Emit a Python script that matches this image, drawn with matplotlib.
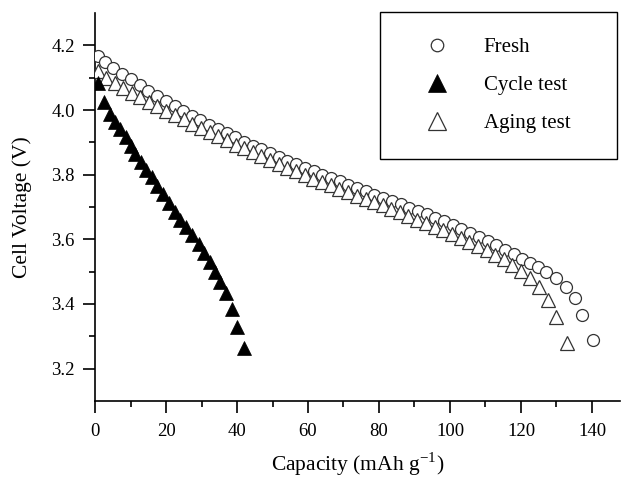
import matplotlib
matplotlib.use("Agg")
import matplotlib.pyplot as plt
from matplotlib.patches import Rectangle

plt.rcParams['font.family'] = ['Liberation Serif', 'DejaVu Serif']
plt.rcParams['mathtext.fontset'] = 'stix'

# Fresh cell (open circles)
fresh_cap = [0.9, 2.8, 5.2, 7.7, 10.1, 12.6, 15.0, 17.5, 19.9, 22.4, 24.8, 27.3,
             29.7, 32.2, 34.6, 37.1, 39.5, 42.0, 44.4, 46.9, 49.3, 51.8, 54.2,
             56.7, 59.1, 61.6, 64.0, 66.5, 68.9, 71.4, 73.8, 76.3, 78.7, 81.2,
             83.6, 86.1, 88.5, 91.0, 93.4, 95.9, 98.3, 100.8, 103.2, 105.7,
             108.1, 110.6, 113.0, 115.5, 117.9, 120.4, 122.5, 124.8, 127.1,
             129.8, 132.6, 135.1, 137.2, 140.2]
fresh_v = [4.168, 4.148, 4.130, 4.112, 4.095, 4.077, 4.060, 4.044, 4.027, 4.012,
           3.998, 3.983, 3.969, 3.955, 3.941, 3.928, 3.915, 3.902, 3.890, 3.878,
           3.866, 3.854, 3.843, 3.832, 3.821, 3.810, 3.800, 3.789, 3.779, 3.768,
           3.758, 3.748, 3.738, 3.728, 3.718, 3.708, 3.698, 3.688, 3.678, 3.667,
           3.656, 3.644, 3.632, 3.620, 3.608, 3.595, 3.582, 3.568, 3.554, 3.540,
           3.527, 3.514, 3.500, 3.480, 3.453, 3.420, 3.366, 3.288]

# Cycle test (filled triangles)
cycle_cap = [0.8, 2.6, 4.2, 5.7, 7.1, 8.6, 10.0, 11.4, 13.0, 14.5, 16.0, 17.6,
             19.2, 20.8, 22.4, 24.0, 25.7, 27.4, 29.2, 30.8, 32.3, 33.8, 35.3,
             37.0, 38.7, 39.9, 41.9]
cycle_v = [4.085, 4.025, 3.988, 3.962, 3.940, 3.915, 3.890, 3.865, 3.838, 3.813,
           3.792, 3.766, 3.740, 3.712, 3.685, 3.660, 3.637, 3.614, 3.585, 3.558,
           3.530, 3.500, 3.469, 3.433, 3.385, 3.330, 3.264]

# Aging test (open triangles)
aging_cap = [0.8, 3.0, 5.5, 7.9, 10.3, 12.8, 15.2, 17.6, 20.1, 22.5, 25.0, 27.4,
             29.8, 32.3, 34.7, 37.2, 39.6, 42.0, 44.5, 46.9, 49.3, 51.8, 54.2,
             56.7, 59.1, 61.5, 64.0, 66.4, 68.8, 71.3, 73.7, 76.2, 78.6, 81.0,
             83.5, 85.9, 88.3, 90.8, 93.2, 95.7, 98.1, 100.5, 103.0, 105.4,
             107.9, 110.3, 112.7, 115.2, 117.6, 120.1, 122.5, 125.2, 127.7,
             129.9, 132.9]
aging_v = [4.120, 4.098, 4.082, 4.067, 4.053, 4.039, 4.025, 4.012, 3.998, 3.985,
           3.971, 3.958, 3.945, 3.932, 3.919, 3.906, 3.893, 3.881, 3.869, 3.857,
           3.845, 3.833, 3.822, 3.810, 3.799, 3.788, 3.777, 3.767, 3.756, 3.746,
           3.735, 3.725, 3.715, 3.705, 3.694, 3.683, 3.672, 3.661, 3.650, 3.639,
           3.628, 3.616, 3.604, 3.592, 3.580, 3.567, 3.553, 3.538, 3.521, 3.502,
           3.481, 3.452, 3.412, 3.360, 3.280]

labels = ['Fresh', 'Cycle test', 'Aging test']
x_ticks = [0, 20, 40, 60, 80, 100, 120, 140]
y_ticks = [3.2, 3.4, 3.6, 3.8, 4.0, 4.2]

fig = plt.figure(figsize=(6.21, 4.8), dpi=100)
ax = fig.add_axes([0.153, 0.1646, 0.846, 0.8083])

ax.plot(fresh_cap, fresh_v, 'o', ms=8.6, mfc='white', mec='#333333', mew=0.9,
        label=labels[0], zorder=3)
ax.plot(aging_cap, aging_v, '^', ms=10, mfc='white', mec='#333333', mew=0.9,
        label=labels[2], zorder=4)
ax.plot(cycle_cap, cycle_v, '^', ms=10, mfc='black', mec='black', mew=0.5,
        label=labels[1], zorder=5)

ax.set_xlim(0, 148)
ax.set_ylim(3.1, 4.3)
ax.set_xticks(x_ticks)
ax.set_xticks(range(10, 150, 20), minor=True)
ax.set_yticks(y_ticks)
ax.set_yticks([3.3, 3.5, 3.7, 3.9, 4.1], minor=True)
ax.set_xticklabels([str(v) for v in x_ticks])
ax.set_yticklabels(['%.1f' % v for v in y_ticks])

for s in ['top', 'right']:
    ax.spines[s].set_visible(False)
for s in ['left', 'bottom']:
    ax.spines[s].set_linewidth(1.2)
ax.tick_params(which='major', direction='out', length=8.5, width=1.2,
               labelsize=13.5, colors='black')
ax.tick_params(which='minor', direction='out', length=4.5, width=1.2)
ax.tick_params(axis='x', which='major', pad=7)
ax.tick_params(axis='y', which='major', pad=6)

ax.set_xlabel(r'Capacity (mAh g$^{\mathregular{-1}}$)', fontsize=15.5, labelpad=8)
ax.set_ylabel('Cell Voltage (V)', fontsize=15.5, labelpad=14)

# legend: frame drawn separately
h, l = ax.get_legend_handles_labels()
order = [l.index(t) for t in labels]
leg = ax.legend([h[i] for i in order], [l[i] for i in order],
                loc='upper left', bbox_to_anchor=(0.611, 0.937),
                frameon=False, fontsize=15, borderpad=0, borderaxespad=0,
                handlelength=2.0, handletextpad=1.25, labelspacing=0.89)
for lh in leg.legend_handles:
    if lh.get_marker() == '^':
        lh.set_markersize(13)
    else:
        lh.set_markersize(9)
ax.add_patch(Rectangle((0.5424, 0.6237), 0.4511, 0.379, transform=ax.transAxes,
                       fill=False, edgecolor='black', lw=1.0, clip_on=False,
                       zorder=6))

fig.savefig('out.png', dpi=100)
